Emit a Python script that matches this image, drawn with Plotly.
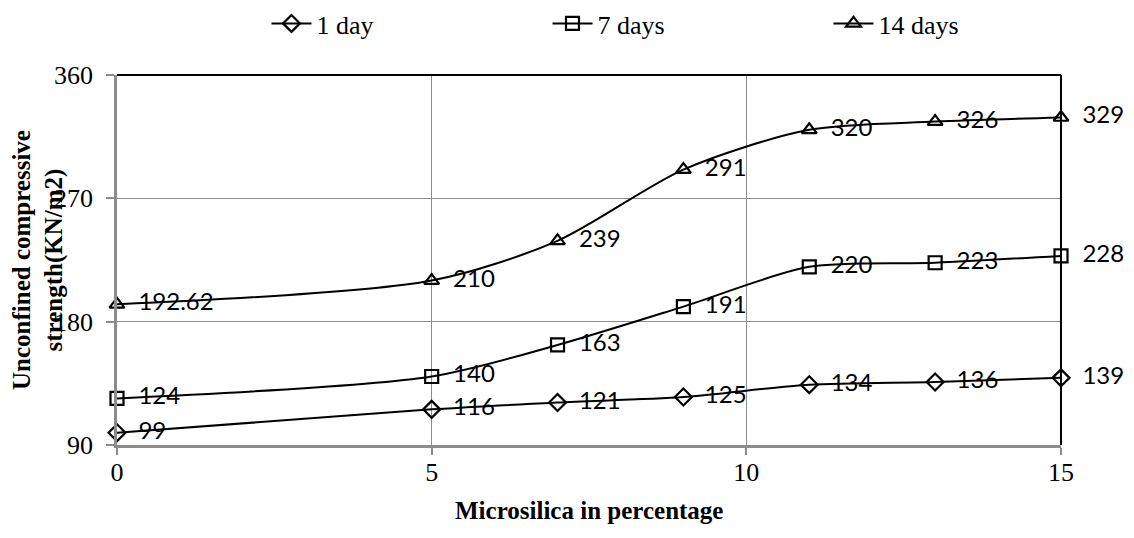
import plotly.graph_objects as go

# Microsilica content (%) and unconfined compressive strength (KN/m2)
microsilica = [0, 5, 7, 9, 11, 13, 15]
day1 = [99, 116, 121, 125, 134, 136, 139]
days7 = [124, 140, 163, 191, 220, 223, 228]
days14 = [192.62, 210, 239, 291, 320, 326, 329]

series = [
    ("1 day", day1, "diamond-open"),
    ("7 days", days7, "square-open"),
    ("14 days", days14, "triangle-up-open"),
]

y_ticks = [90, 180, 270, 360]
x_ticks = [0, 5, 10, 15]

serif = "Liberation Serif, Times New Roman, serif"
label_font = "Lato, Open Sans, sans-serif"

fig = go.Figure()
for name, vals, sym in series:
    fig.add_trace(go.Scatter(
        x=microsilica, y=vals, name=name,
        mode="lines+markers+text",
        line=dict(color="black", width=2, shape="spline", smoothing=0.8),
        marker=dict(symbol=sym, size=13, color="black", line=dict(width=2.2, color="black")),
        text=["  " + (f"{v:g}") for v in vals],
        textposition="middle right",
        textfont=dict(family=label_font, size=24, color="black"),
        cliponaxis=False,
    ))

grid_col = "#8c8c8c"
fig.update_xaxes(
    range=[0, 15], tickvals=x_ticks, showgrid=True, gridcolor=grid_col, gridwidth=1,
    showline=True, linecolor=grid_col, linewidth=2.5,
    ticks="outside", ticklen=7, tickcolor=grid_col, tickwidth=1.5,
    ticklabelstandoff=-5,
    tickfont=dict(family=serif, size=26, color="black"), zeroline=False,
)
fig.update_yaxes(
    range=[90, 360], tickvals=y_ticks, showgrid=True, gridcolor=grid_col, gridwidth=1,
    showline=True, linecolor=grid_col, linewidth=2.5,
    ticks="outside", ticklen=8, tickcolor=grid_col, tickwidth=1.5,
    ticklabelstandoff=8,
    tickfont=dict(family=serif, size=26, color="black"), zeroline=False,
)

# plot-area border on top and right
fig.add_shape(type="line", xref="paper", yref="paper", x0=0, x1=1, y0=1, y1=1,
              line=dict(color="black", width=2))
fig.add_shape(type="line", xref="paper", yref="paper", x0=1, x1=1, y0=0, y1=1,
              line=dict(color="black", width=2))

# axis titles
fig.add_annotation(
    text="<b>Microsilica in percentage</b>", xref="paper", yref="paper",
    x=0.5, y=-0.176, showarrow=False, yanchor="middle",
    font=dict(family=serif, size=25, color="black"),
)
fig.add_annotation(
    text="<b>Unconfined compressive<br>strength(KN/m2)</b>", xref="paper", yref="paper",
    x=-0.0837, y=0.5, textangle=-90, showarrow=False, xanchor="center", yanchor="middle",
    font=dict(family=serif, size=25, color="black"),
)

fig.update_layout(
    width=1134, height=538,
    margin=dict(l=117, r=73, t=75, b=93, autoexpand=False),
    paper_bgcolor="white", plot_bgcolor="white",
    showlegend=True,
    legend=dict(
        orientation="h", xref="container", yref="container",
        x=0.235, xanchor="left", y=1.0, yanchor="top",
        entrywidth=226, entrywidthmode="pixels",
        font=dict(family=serif, size=26, color="black"),
        itemwidth=40,
    ),
)

fig.write_html("out.html")
